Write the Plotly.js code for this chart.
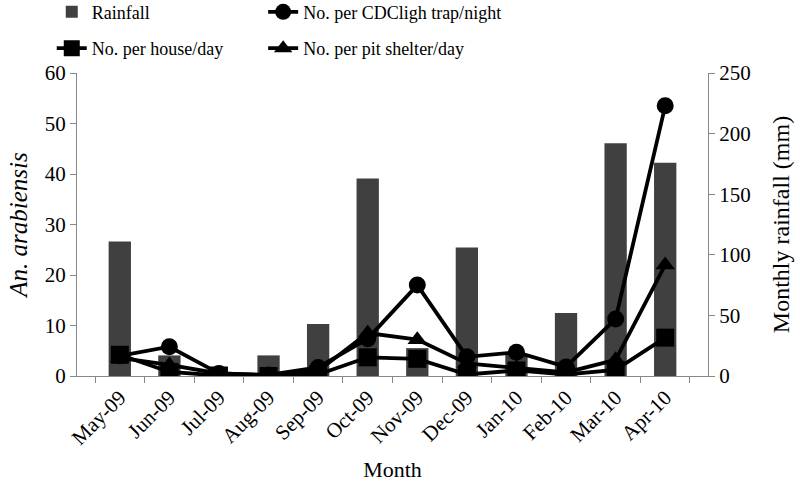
<!DOCTYPE html>
<html>
<head>
<meta charset="utf-8">
<script src="https://cdn.plot.ly/plotly-3.0.1.min.js"></script>
<style>html,body{margin:0;padding:0;background:#fff}#chart{width:800px;height:487px}</style>
</head>
<body>
<div id="chart"></div>
<script>
const months = ["May-09","Jun-09","Jul-09","Aug-09","Sep-09","Oct-09","Nov-09","Dec-09","Jan-10","Feb-10","Mar-10","Apr-10"];
const rainfall = [111, 17, 2, 17, 43, 163, 23, 106, 18, 52, 192, 176];
const perCDCTrap = [4.0, 5.8, 0.5, 0.2, 1.7, 7.4, 18.0, 3.8, 4.7, 1.8, 11.3, 53.5];
const perHouse = [4.2, 0.8, 0.1, 0.0, 0.3, 3.7, 3.4, 0.3, 1.1, 0.3, 1.2, 7.6];
const perPitShelter = [3.6, 2.2, 0.5, 0.2, 1.0, 8.5, 7.2, 2.5, 1.6, 0.7, 3.2, 22.0];

const font = "'Liberation Serif', 'Times New Roman', serif";
const lineStyle = {color: "#000", width: 3.8};

// Rainfall on the primary (right-side) axis so the count lines, on the overlaying
// left axis, are drawn on top of the bars.
const data = [
  {type: "bar", x: months, y: rainfall, name: "Rainfall", yaxis: "y",
   marker: {color: "#404040"}, width: 0.45, legend: "legend", legendgroup: "a"},
  {type: "scatter", mode: "lines+markers", x: months, y: perCDCTrap, name: "No. per CDCligh trap/night", yaxis: "y2",
   line: lineStyle, marker: {symbol: "circle", size: 17, color: "#000"}, legend: "legend2", legendgroup: "b"},
  {type: "scatter", mode: "lines+markers", x: months, y: perHouse, name: "No. per house/day", yaxis: "y2",
   line: lineStyle, marker: {symbol: "square", size: 18, color: "#000"}, legend: "legend", legendgroup: "c"},
  {type: "scatter", mode: "lines+markers", x: months, y: perPitShelter, name: "No. per pit shelter/day", yaxis: "y2",
   line: lineStyle, marker: {symbol: "triangle-up", size: 17, color: "#000"}, legend: "legend2", legendgroup: "d"}
];

const axisCommon = {showgrid: false, zeroline: false, showline: true, linecolor: "#888", linewidth: 1,
  ticks: "outside", tickcolor: "#888", ticklen: 6, automargin: false,
  tickfont: {family: font, size: 21, color: "#000"}};

const legendCommon = {xref: "paper", yref: "paper", xanchor: "left", yanchor: "top",
  orientation: "v", traceorder: "grouped", tracegroupgap: 10, bgcolor: "rgba(0,0,0,0)",
  font: {family: font, size: 18, color: "#000"}};

const layout = {
  width: 800, height: 487,
  margin: {l: 77, r: 92, t: 73, b: 111, autoexpand: false},
  paper_bgcolor: "#fff", plot_bgcolor: "#fff",
  font: {family: font, color: "#000"},
  showlegend: true,
  xaxis: Object.assign({}, axisCommon, {
    type: "category", tickangle: -45, tickson: "boundaries",
    title: {text: "Month", font: {family: font, size: 22, color: "#000"}, standoff: 12}
  }),
  yaxis: Object.assign({}, axisCommon, {
    range: [0, 250], dtick: 50, side: "right",
    title: {text: "Monthly rainfall (mm)", font: {family: font, size: 24, color: "#000"}, standoff: 22}
  }),
  yaxis2: Object.assign({}, axisCommon, {
    range: [0, 60], dtick: 10, overlaying: "y", side: "left",
    title: {text: "<i>An. arabiensis</i>", font: {family: font, size: 25, color: "#000"}, standoff: 10}
  }),
  legend: Object.assign({}, legendCommon, {x: -0.04, y: 1.262}),
  legend2: Object.assign({}, legendCommon, {x: 0.295, y: 1.262}),
  bargap: 0.55
};

Plotly.newPlot("chart", data, layout, {displayModeBar: false, staticPlot: true});
</script>
</body>
</html>
